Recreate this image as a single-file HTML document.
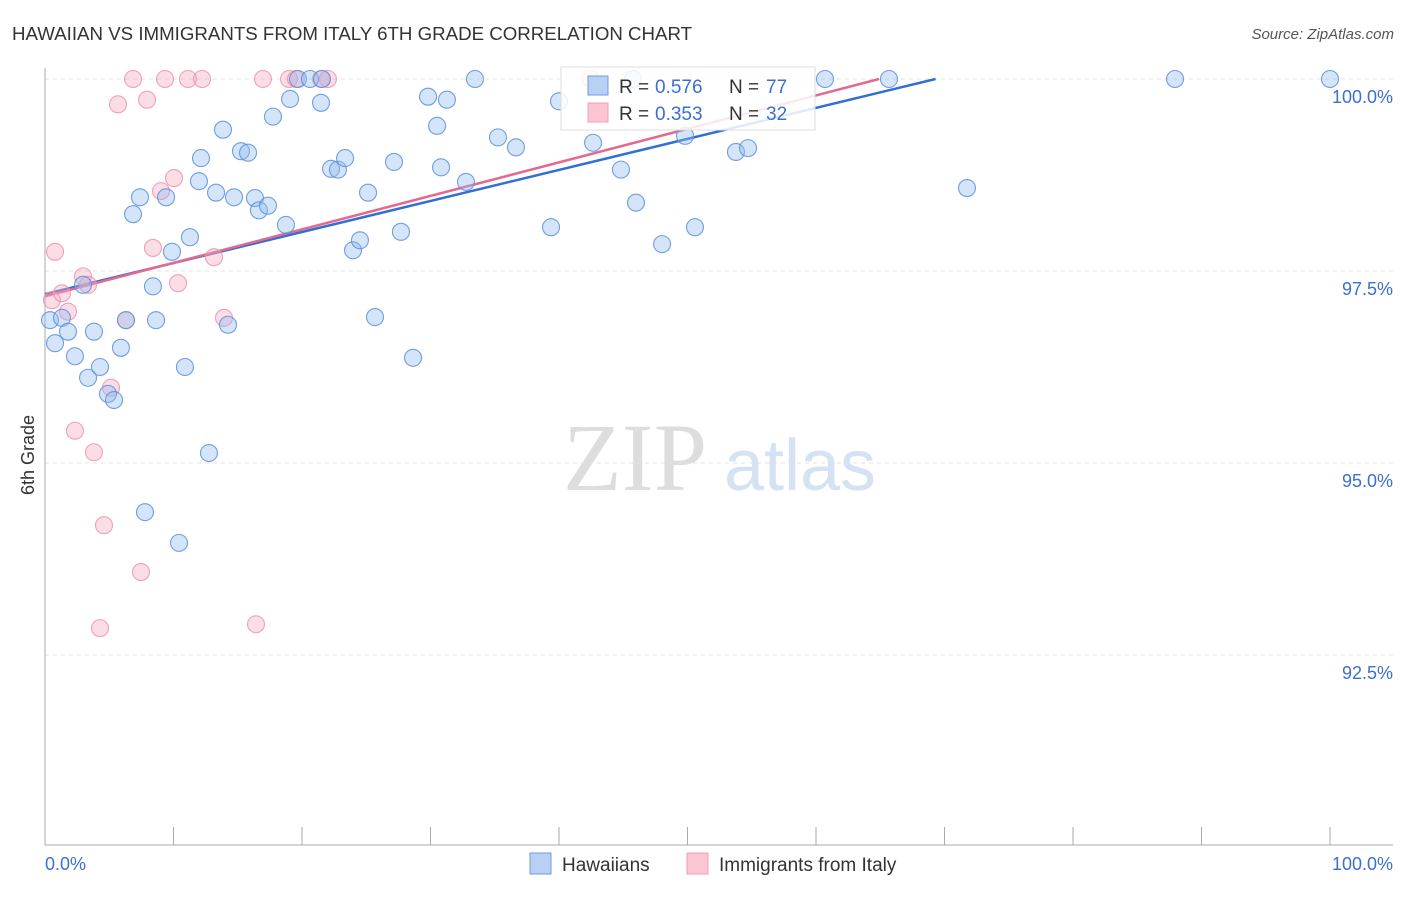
<!DOCTYPE html>
<html><head><meta charset="utf-8"><style>
body{margin:0;background:#fff;font-family:"Liberation Sans",sans-serif;}
svg text{font-family:"Liberation Sans",sans-serif;}
</style></head><body>
<svg id="chart" width="1406" height="892" xmlns="http://www.w3.org/2000/svg">
<text x="12" y="40" font-size="18.7" fill="#333">HAWAIIAN VS IMMIGRANTS FROM ITALY 6TH GRADE CORRELATION CHART</text>
<text x="1394" y="39" font-size="15" fill="#555" text-anchor="end" font-style="italic">Source: ZipAtlas.com</text>
<text x="34" y="455" font-size="18" fill="#333" text-anchor="middle" transform="rotate(-90 34 455)">6th Grade</text>
<g><text x="635" y="490" font-size="96" fill="#ddd" text-anchor="middle" style="font-family:'Liberation Serif',serif">ZIP</text><text x="800" y="490" font-size="72" fill="#d4e2f4" text-anchor="middle">atlas</text></g>
<g id="grid"></g><g id="axes"></g><g id="lines"></g><g id="points"></g>
<g>
<rect x="561" y="67" width="254" height="63" fill="#fff" fill-opacity="0.85" stroke="#ddd"/>
<rect x="588" y="76" width="20" height="19" fill="#b7d0f3" stroke="#6d9ae0"/>
<rect x="588" y="103" width="20" height="19" fill="#fbc5d3" stroke="#f0a0b7"/>
<text x="619" y="93" font-size="19" fill="#333">R = </text>
<text x="655" y="93" font-size="19" fill="#3b6fd1">0.576</text>
<text x="729" y="93" font-size="19" fill="#333">N = </text>
<text x="766" y="93" font-size="19" fill="#3b6fd1">77</text>
<text x="619" y="120" font-size="19" fill="#333">R = </text>
<text x="655" y="120" font-size="19" fill="#3b6fd1">0.353</text>
<text x="729" y="120" font-size="19" fill="#333">N = </text>
<text x="766" y="120" font-size="19" fill="#3b6fd1">32</text>
</g>
<g>
<rect x="530" y="853" width="21" height="21" fill="#b7d0f3" stroke="#6d9ae0"/>
<text x="562" y="871" font-size="19" fill="#333">Hawaiians</text>
<rect x="687" y="853" width="21" height="21" fill="#fbc5d3" stroke="#f0a0b7"/>
<text x="719" y="871" font-size="19" fill="#333">Immigrants from Italy</text>
</g>
</svg>
<script>
const blueX=[0.39,0.78,1.32,1.79,2.33,3.35,3.81,4.28,4.90,5.37,5.91,6.30,2.96,6.85,7.39,7.78,8.40,8.64,9.42,9.88,10.43,10.89,11.28,11.98,12.14,12.76,13.31,13.85,14.24,14.71,15.25,15.80,16.34,16.65,17.35,17.74,18.75,19.07,19.69,20.62,21.56,21.48,22.26,22.80,23.35,23.97,24.51,25.14,25.68,27.16,27.70,28.64,29.81,30.51,30.82,31.28,32.76,33.46,35.25,36.65,39.38,40.00,42.65,44.82,45.99,48.02,49.81,50.58,53.77,54.71,60.70,65.68,71.75,87.94,100,45.76];
const blueY=[96.86,96.56,96.89,96.71,96.39,96.11,96.71,96.25,95.90,95.82,96.50,96.86,97.32,98.24,98.46,94.36,97.30,96.86,98.46,97.75,93.96,96.25,97.94,98.67,98.97,95.13,98.52,99.34,96.80,98.46,99.06,99.04,98.45,98.29,98.35,99.51,98.10,99.74,100,100,100,99.69,98.83,98.82,98.97,97.77,97.90,98.52,96.90,98.92,98.01,96.37,99.77,99.39,98.85,99.73,98.66,100,99.24,99.11,98.07,99.71,99.17,98.82,98.39,97.85,99.26,98.07,99.05,99.10,100,100,98.58,100,100,100];
const pinkX=[0.78,0.54,1.32,1.79,2.96,3.35,2.33,3.81,4.59,4.28,5.14,5.68,6.30,6.85,7.47,7.94,8.40,9.03,9.34,10.04,10.35,11.13,12.22,13.15,13.93,16.42,16.96,18.99,19.53,21.48,22.02,42.49];
const pinkY=[97.75,97.12,97.21,96.97,97.43,97.32,95.42,95.14,94.19,92.85,95.98,99.67,96.86,100,93.58,99.73,97.80,98.54,100,98.71,97.34,100,100,97.68,96.89,92.90,100,100,100,100,100,100];
const blueTrend=[97.20,0.0404];
const pinkTrend=[97.17,0.0436];
const yTicks=[100,97.5,95,92.5];
const yTickLabels=["100.0%","97.5%","95.0%","92.5%"];
const xLabels=["0.0%","100.0%"];
const NS="http://www.w3.org/2000/svg";
const X=v=>45+v*12.85, Y=v=>79+(100-v)*76.8;
function mk(tag,attrs,parent){const e=document.createElementNS(NS,tag);for(const k in attrs)e.setAttribute(k,attrs[k]);parent.appendChild(e);return e;}
const grid=document.getElementById('grid'),axes=document.getElementById('axes'),lines=document.getElementById('lines'),pts=document.getElementById('points');
yTicks.forEach((t,i)=>{
 const l=mk('line',{x1:45,x2:1393,y1:Y(t),y2:Y(t),stroke:'#e2e2e2','stroke-dasharray':'4,4'},grid);
 
 
 const tx=mk('text',{x:1393,y:Y(t)+24,'font-size':18,fill:'#3b6fd1','text-anchor':'end'},axes);
 tx.textContent=yTickLabels[i];
 
 
});
const ax=mk('line',{x1:45,x2:1393,y1:845,y2:845,stroke:'#aaa'},axes);


const ay=mk('line',{x1:45,x2:45,y1:68,y2:845,stroke:'#aaa'},axes);


for(let k=1;k<=10;k++){
 const t=mk('line',{x1:X(k*10),x2:X(k*10),y1:827,y2:845,stroke:'#aaa'},axes);
 
 
}
const xl0=mk('text',{x:45,y:870,'font-size':18,fill:'#3b6fd1'},axes);xl0.textContent=xLabels[0];


const xl1=mk('text',{x:1393,y:870,'font-size':18,fill:'#3b6fd1','text-anchor':'end'},axes);xl1.textContent=xLabels[1];


function drawPts(xs,ys,fill,stroke,name){xs.forEach((x,i)=>{
 const c=mk('circle',{cx:X(x),cy:Y(ys[i]),r:8.5,fill:fill,stroke:stroke,'stroke-width':1.1,'stroke-opacity':0.85},pts);
 
 
});}
drawPts(pinkX,pinkY,'rgba(246,170,192,0.4)','#ec93ad','point-italy');
drawPts(blueX,blueY,'rgba(147,187,240,0.4)','#5b8fd9','point-hawaiian');
function trend(tr,color,name){const xe=Math.min(100,(100-tr[0])/tr[1]);
 const l=mk('line',{x1:X(0),y1:Y(tr[0]),x2:X(xe),y2:Y(tr[0]+tr[1]*xe),stroke:color,'stroke-width':2.5},lines);
 
 
}
trend(blueTrend,'#2f6fd6','trend-line-hawaiians');
trend(pinkTrend,'#e4698f','trend-line-italy');
</script>
</body></html>
